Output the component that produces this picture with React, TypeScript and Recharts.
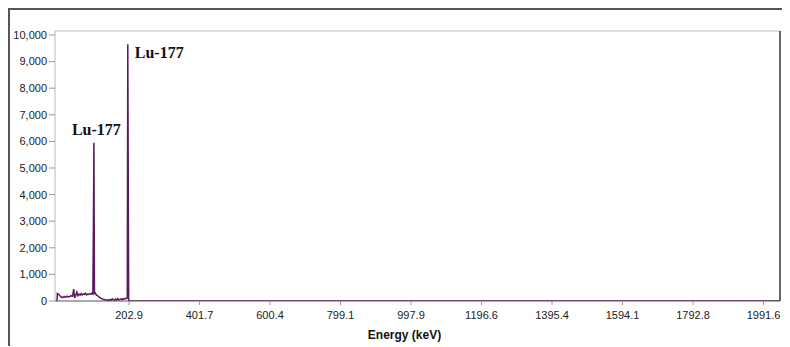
import React from 'react';
import { LineChart, Line, XAxis, YAxis, ReferenceLine, ReferenceDot } from 'recharts';

const energies = [0, 1, 4, 8, 12, 16, 20, 24, 28, 32, 36, 40, 44, 47, 50, 53, 56, 59, 62, 65, 68, 71, 74, 77, 80, 83, 86, 89, 92, 95, 98, 101, 102.5, 104, 105.5, 108, 111, 114, 117, 120, 123, 126, 129, 132, 135, 138, 141, 144, 147, 150, 153, 156, 159, 162, 165, 168, 171, 174, 177, 180, 183, 186, 189, 192, 195, 198, 199.5, 200.5, 202, 2038];
const counts = [0, 280, 260, 200, 150, 130, 170, 140, 180, 150, 170, 200, 180, 450, 120, 220, 340, 200, 260, 220, 280, 230, 260, 250, 290, 230, 260, 250, 270, 260, 290, 260, 2750, 5950, 280, 300, 220, 200, 170, 130, 110, 90, 70, 60, 50, 40, 30, 50, 20, 60, 30, 80, 40, 20, 70, 30, 90, 40, 60, 80, 50, 90, 70, 100, 90, 110, 9650, 5700, 0, 0];

const xTicks = [202.9, 401.7, 600.4, 799.1, 997.9, 1196.6, 1395.4, 1594.1, 1792.8, 1991.6];
const yTicks = [0, 1000, 2000, 3000, 4000, 5000, 6000, 7000, 8000, 9000, 10000];

const peakLabels = ['Lu-177', 'Lu-177'];
const peakLabelX = [111, 288];
const peakLabelY = [6466, 9360];

const X_MIN = -5.7;
const X_MAX = 2038;
const Y_MAX = 10150;

const data = energies.map((e, i) => ({ e, c: counts[i] }));

const fmt = (v: number) => v.toLocaleString('en-US');

export default function App() {
  return (
    <div
      style={{
        width: 772,
        height: 336,
        borderTop: '2px solid #555',
        borderLeft: '2px solid #555',
        background: '#fff',
        overflow: 'hidden',
      }}
    >
      <LineChart width={772} height={336} data={data} margin={{ top: 21, right: 2, bottom: 7, left: 0 }}>
        <XAxis
          dataKey="e"
          type="number"
          domain={[X_MIN, X_MAX]}
          ticks={xTicks}
          allowDataOverflow
          tickFormatter={(v: number) => v.toFixed(1)}
          axisLine={{ stroke: '#555', strokeWidth: 1 }}
          tickLine={{ stroke: '#999' }}
          tickSize={4}
          tickMargin={6}
          height={38}
          tick={{ fontFamily: 'Liberation Sans, Arial, sans-serif', fontSize: 11, fill: '#222' }}
          label={{
            value: 'Energy (keV)',
            position: 'insideBottom',
            offset: 0,
            dx: -13,
            style: { fontFamily: 'Liberation Sans, Arial, sans-serif', fontSize: 12, fontWeight: 'bold', fill: '#111' },
          }}
        />
        <YAxis
          type="number"
          domain={[0, Y_MAX]}
          ticks={yTicks}
          allowDataOverflow
          tickFormatter={fmt}
          width={45}
          axisLine={{ stroke: '#bbb' }}
          tickLine={{ stroke: '#999' }}
          tickSize={6}
          tickMargin={2}
          tick={{ fontFamily: 'Liberation Sans, Arial, sans-serif', fontSize: 11, fill: '#222' }}
        />
        <ReferenceLine y={Y_MAX} stroke="#bbb" strokeWidth={1} ifOverflow="extendDomain" />
        <ReferenceLine x={X_MAX} stroke="#333" strokeWidth={1.5} />
        <Line
          type="linear"
          dataKey="c"
          stroke="#5b1a5e"
          strokeWidth={1.5}
          dot={false}
          isAnimationActive={false}
        />
        {peakLabels.map((t, i) => (
          <ReferenceDot
            key={i}
            x={peakLabelX[i]}
            y={peakLabelY[i]}
            r={0}
            stroke="none"
            fill="none"
            label={{
              value: t,
              position: 'center',
              style: { fontFamily: 'Liberation Serif, Times New Roman, serif', fontSize: 16, fontWeight: 'bold', fill: '#111' },
            }}
          />
        ))}
      </LineChart>
    </div>
  );
}
